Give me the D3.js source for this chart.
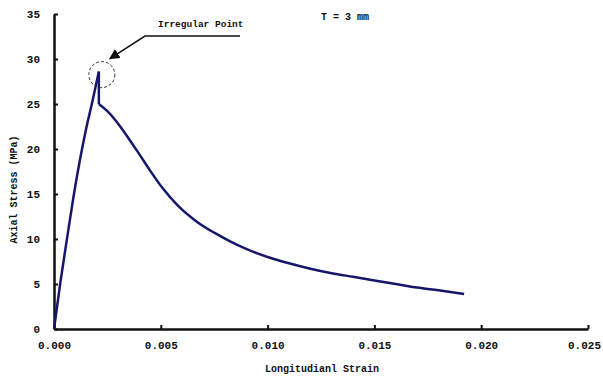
<!DOCTYPE html>
<html>
<head>
<meta charset="utf-8">
<script src="https://cdn.jsdelivr.net/npm/d3@7"></script>
<style>
  body { margin: 0; background: #fff; }
  text { font-family: "Liberation Mono", "Courier New", monospace; font-weight: bold; fill: #111; }
</style>
</head>
<body>
<svg id="chart" width="603" height="376"></svg>
<script>
// data
const strain = [0, 0.0003, 0.0006, 0.0009, 0.0012, 0.0015, 0.0018, 0.0021,
  0.0021, 0.0025, 0.0031, 0.0036, 0.0040, 0.0045, 0.0051, 0.0058, 0.0067, 0.0075, 0.0082,
  0.0090, 0.0100, 0.0110, 0.0120, 0.0130, 0.0140, 0.0150, 0.0160, 0.0170, 0.0180, 0.0192];
const stress = [0, 5.2, 9.9, 14.5, 18.6, 22.2, 25.3, 28.6,
  25.0, 24.2, 22.5, 20.8, 19.4, 17.6, 15.6, 13.7, 11.9, 10.7, 9.8,
  8.9, 8.0, 7.3, 6.7, 6.2, 5.8, 5.4, 5.0, 4.6, 4.3, 3.9];
const xTicks = [0, 0.005, 0.010, 0.015, 0.020, 0.025];
const yTicks = [0, 5, 10, 15, 20, 25, 30, 35];
const peak = [0.0021, 28.6];

const svg = d3.select("#chart");
const margin = { top: 14, left: 54, right: 15, bottom: 47 };
const width = 603, height = 376;

const x = d3.scaleLinear().domain([0, 0.025]).range([margin.left, width - margin.right]);
const y = d3.scaleLinear().domain([0, 35]).range([height - margin.bottom, margin.top]);

// x axis
const xAxis = svg.append("g")
    .attr("transform", `translate(0,${y(0)})`)
    .call(d3.axisBottom(x).tickValues(xTicks).tickFormat(d3.format(".3f")).tickSizeInner(-4).tickSizeOuter(0).tickPadding(12));
xAxis.select(".domain").attr("stroke", "#111").attr("stroke-width", 2.5);
xAxis.selectAll(".tick line").attr("stroke", "#111").attr("stroke-width", 2);
xAxis.selectAll("text").style("font-size", "11px").attr("fill", "#111")
    .attr("dx", d => d === 0.025 ? -4 : 0);

// y axis
const yAxis = svg.append("g")
    .attr("transform", `translate(${x(0)},0)`)
    .call(d3.axisLeft(y).tickValues(yTicks).tickSizeInner(-4).tickSizeOuter(0).tickPadding(14));
yAxis.select(".domain").attr("stroke", "#111").attr("stroke-width", 2.5);
yAxis.selectAll(".tick line").attr("stroke", "#111").attr("stroke-width", 2);
yAxis.selectAll("text").style("font-size", "11px").attr("fill", "#111");

// curve: rising branch, drop, then softening branch
const pts = strain.map((s, i) => [s, stress[i]]);
const curve = d3.line().x(d => x(d[0])).y(d => y(d[1])).curve(d3.curveMonotoneX);
svg.append("path")
    .attr("d", curve(pts.slice(0, 8)))
    .attr("fill", "none").attr("stroke", "#16166a").attr("stroke-width", 2.5);
svg.append("path")
    .attr("d", d3.line().x(d => x(d[0])).y(d => y(d[1]))(pts.slice(7, 9)))
    .attr("fill", "none").attr("stroke", "#16166a").attr("stroke-width", 2.5);
svg.append("path")
    .attr("d", curve(pts.slice(8)))
    .attr("fill", "none").attr("stroke", "#16166a").attr("stroke-width", 2.5);

// annotation
svg.append("circle")
    .attr("cx", x(peak[0]) + 3).attr("cy", y(peak[1]) + 3).attr("r", 13)
    .attr("fill", "none").attr("stroke", "#333").attr("stroke-width", 1).attr("stroke-dasharray", "3,2");
svg.append("defs").append("marker")
    .attr("id", "arr").attr("viewBox", "0 0 10 10").attr("refX", 9).attr("refY", 5)
    .attr("markerWidth", 7).attr("markerHeight", 7).attr("orient", "auto")
  .append("path").attr("d", "M0,0 L10,5 L0,10 z").attr("fill", "#111");
svg.append("polyline")
    .attr("points", `240,36 145,36 ${x(peak[0]) + 11},${y(peak[1]) - 13}`)
    .attr("fill", "none").attr("stroke", "#111").attr("stroke-width", 1.5)
    .attr("marker-end", "url(#arr)");
svg.append("text").attr("x", 158).attr("y", 27).style("font-size", "9.5px").text("Irregular Point");
svg.append("text").attr("x", 345).attr("y", 20).attr("text-anchor", "middle").style("font-size", "10px").text("T = 3 mm");

// axis titles
svg.append("text").attr("x", 322).attr("y", 372).attr("text-anchor", "middle")
    .style("font-size", "10px").text("Longitudianl Strain");
svg.append("text").attr("transform", `translate(17,${(y(0) + y(35)) / 2 + 18}) rotate(-90)`)
    .attr("text-anchor", "middle").style("font-size", "10px").text("Axial Stress (MPa)");
</script>
</body>
</html>
